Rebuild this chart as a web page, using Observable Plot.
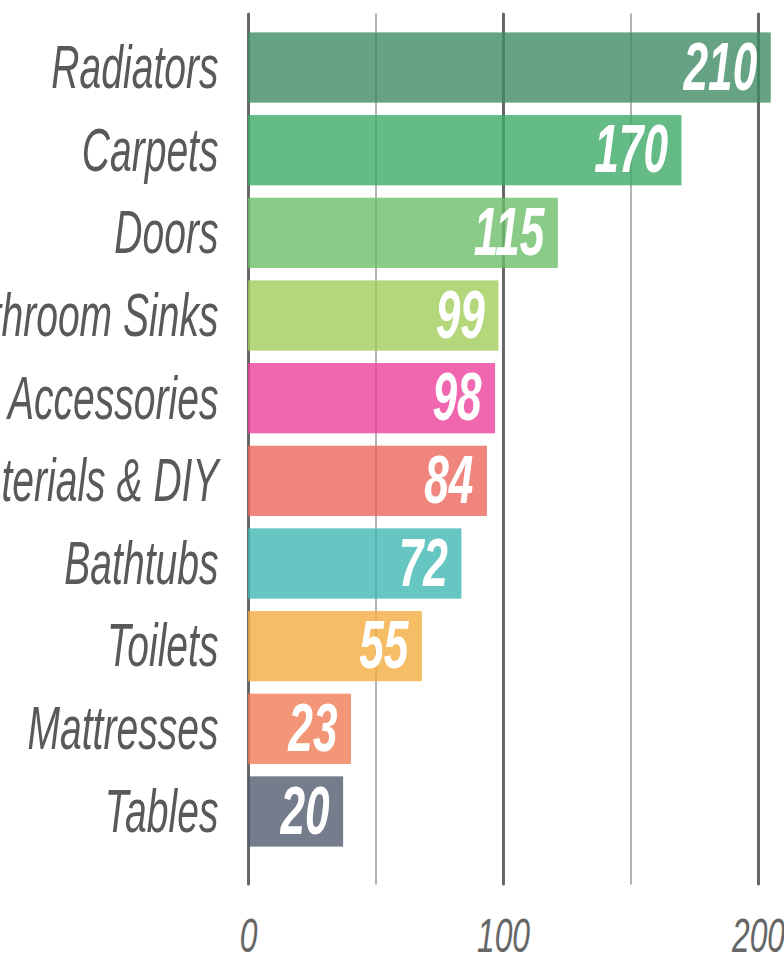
<!DOCTYPE html>
<html>
<head>
<meta charset="utf-8">
<script src="https://cdn.jsdelivr.net/npm/d3@7"></script>
<script src="https://cdn.jsdelivr.net/npm/@observablehq/plot@0.6"></script>
<style>
  html, body { margin: 0; padding: 0; background: #fff; overflow: hidden; }
  #chart svg { display: block; }
</style>
</head>
<body>
<div id="chart"></div>
<script>
// Categories (top to bottom)
const categories = ["Radiators", "Carpets", "Doors", "Bathroom Sinks", "Bathroom Accessories",
  "Building Materials & DIY", "Bathtubs", "Toilets", "Mattresses", "Tables"];
// Bar lengths as drawn in the picture
const barValues = [205, 170, 121.5, 98.2, 96.9, 93.7, 83.7, 68.2, 40.4, 37.3];
// Value labels as printed on the bars
const valueLabels = ["210", "170", "115", "99", "98", "84", "72", "55", "23", "20"];
// Bar colours
const barColors = ["#408c66", "#3daa68", "#6dbf69", "#a2cd5b", "#ec419c",
  "#ec665c", "#40b8b3", "#f4ac41", "#ef7c55", "#535b6f"];
// Gridlines / ticks
const majorTicks = [0, 100, 200];
const minorTicks = [50, 150];

const data = categories.map((c, i) => ({cat: c, value: barValues[i], label: valueLabels[i], color: barColors[i]}));

const font = "'Liberation Sans', Arial, sans-serif";

const chart = Plot.plot({
  width: 784,
  height: 961,
  marginLeft: 248,
  marginRight: 0,
  marginTop: 20,
  marginBottom: 102,
  style: {fontFamily: font, background: "#fff", overflow: "visible"},
  x: {domain: [0, 210.2], ticks: majorTicks},
  y: {domain: categories, padding: 0.15, round: false},
  marks: [
    Plot.ruleX(minorTicks, {stroke: "#9a9a9a", strokeWidth: 1.5, insetTop: -6, insetBottom: -25, strokeLinecap: "round"}),
    Plot.ruleX(majorTicks, {stroke: "#666", strokeWidth: 3, insetTop: -6, insetBottom: -25, strokeLinecap: "round"}),
    Plot.barX(data, {x: "value", y: "cat", fill: "color", fillOpacity: 0.8}),
    Plot.text(data, {x: "value", y: "cat", text: "label", textAnchor: "end", dx: -14,
      fill: "#fff", fontSize: 68, fontWeight: "bold", fontStyle: "italic", lineAnchor: "middle",
      className: "vals"}),
    Plot.axisY({tickSize: 0, tickPadding: 30, fontSize: 62, fontStyle: "italic", color: "#595959",
      label: null, className: "ylab"}),
    Plot.axisX({tickSize: 0, tickPadding: 58, fontSize: 49, fontStyle: "italic", color: "#666",
      label: null, ticks: majorTicks, className: "xlab"})
  ]
});

document.getElementById("chart").appendChild(chart);

function condense(root, selector, ratio) {
  root.querySelectorAll(selector + " text").forEach(t => {
    const L = t.getComputedTextLength();
    if (L > 0) {
      t.setAttribute("textLength", (L * ratio).toFixed(1));
      t.setAttribute("lengthAdjust", "spacingAndGlyphs");
    }
  });
}
condense(chart, ".ylab", 0.63);
condense(chart, ".xlab", 0.65);
condense(chart, ".vals", 0.65);
</script>
</body>
</html>
